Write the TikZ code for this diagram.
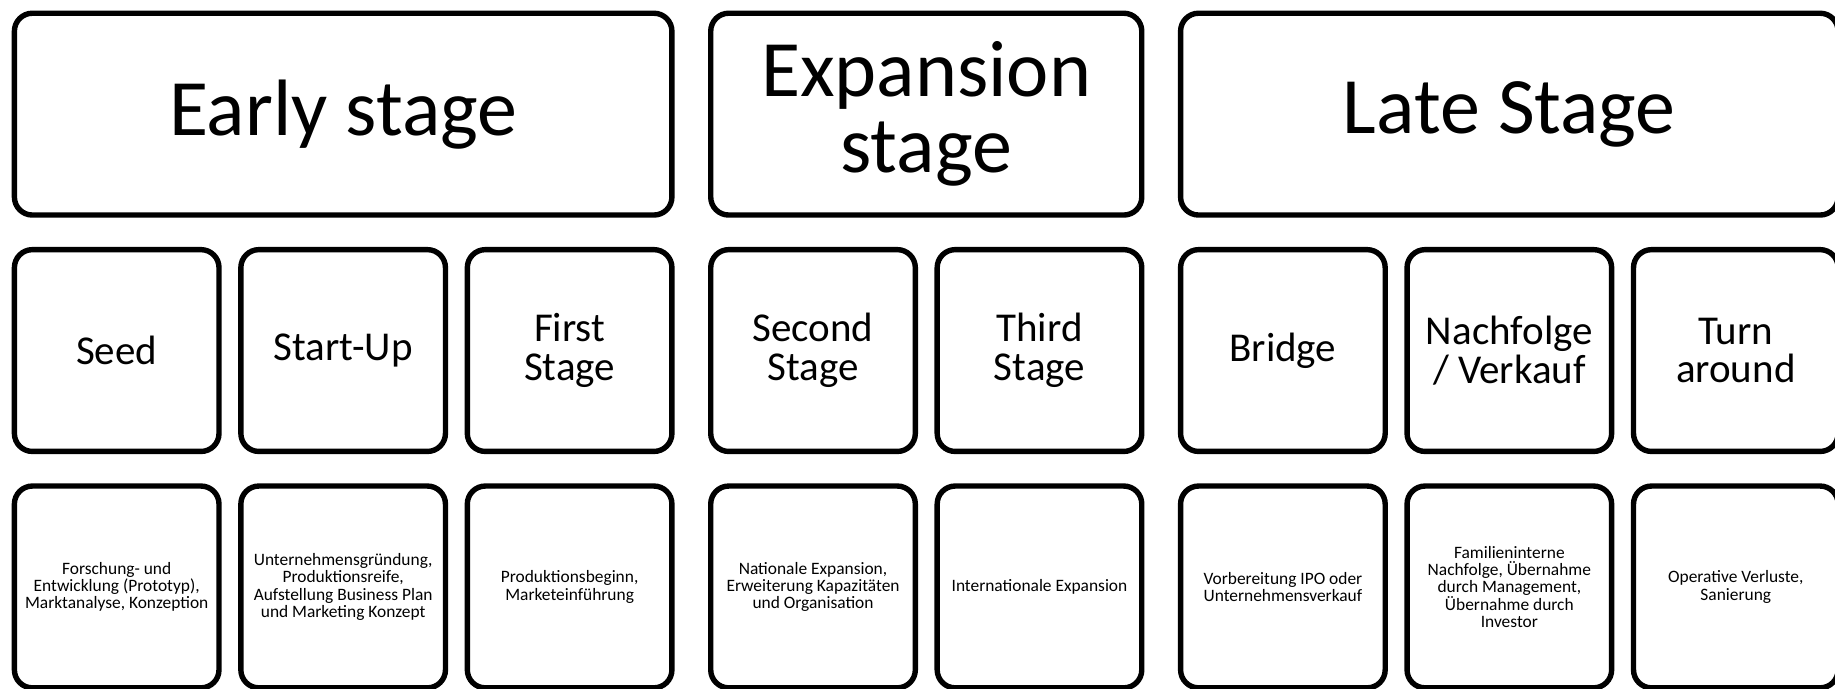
\documentclass[tikz,border=0pt]{standalone}
\usepackage{fontspec}
\setmainfont{Carlito}
\usetikzlibrary{positioning}

\begin{document}
\begin{tikzpicture}[node distance=8.23pt,
 box/.style={draw,line width=2.7pt,outer sep=1.35pt,rounded corners=9pt,align=center,inner sep=2pt},
 stage/.style={box,minimum height=100.9pt,font=\fontsize{40}{38}\selectfont},
 phase/.style={box,minimum width=102.3pt,minimum height=100.9pt,font=\fontsize{20.5}{19.3}\selectfont},
 info/.style={box,minimum width=102.3pt,minimum height=100.9pt,font=\fontsize{8.7}{8.6}\selectfont}]
 \useasboundingbox (0,0) rectangle (917.5pt,-344.5pt);

 % 3 stages
 \node[stage,minimum width=328.76pt,anchor=north west] (early) at (5.85pt,-5.27pt) {Early stage};
 \node[stage,minimum width=215.53pt] (expansion) [right=16.7pt of early] {Expansion\\stage};
 \node[stage,minimum width=328.76pt] (late) [right=16.7pt of expansion] {Late Stage};

 % 8 phases
 \node[phase] (seed) [below=14.6pt of early.south west,anchor=north west] {Seed};
 \node[phase] (startup) [right=of seed] {Start-Up};
 \node[phase] (first) [right=of startup] {First\\Stage};
 \node[phase] (second) [right=16.7pt of first] {Second\\Stage};
 \node[phase] (third) [right=of second] {Third\\Stage};
 \node[phase] (bridge) [right=16.7pt of third] {Bridge};
 \node[phase] (nachfolge) [right=of bridge] {Nachfolge\\/ Verkauf};
 \node[phase] (turn) [right=of nachfolge] {Turn\\around};

 % what happens in each phase
 \node[info] (seedinfo) [below=14.6pt of seed] {Forschung- und\\Entwicklung (Prototyp),\\Marktanalyse, Konzeption};
 \node[info] (startupinfo) [below=14.6pt of startup] {Unternehmensgründung,\\Produktionsreife,\\Aufstellung Business Plan\\und Marketing Konzept};
 \node[info] (firstinfo) [below=14.6pt of first] {Produktionsbeginn,\\Marketeinführung};
 \node[info] (secondinfo) [below=14.6pt of second] {Nationale Expansion,\\Erweiterung Kapazitäten\\und Organisation};
 \node[info] (thirdinfo) [below=14.6pt of third] {Internationale Expansion};
 \node[info] (bridgeinfo) [below=14.6pt of bridge] {Vorbereitung IPO oder\\Unternehmensverkauf};
 \node[info] (nachfolgeinfo) [below=14.6pt of nachfolge] {Familieninterne\\Nachfolge, Übernahme\\durch Management,\\Übernahme durch\\Investor};
 \node[info] (turninfo) [below=14.6pt of turn] {Operative Verluste,\\Sanierung};
\end{tikzpicture}
\end{document}
